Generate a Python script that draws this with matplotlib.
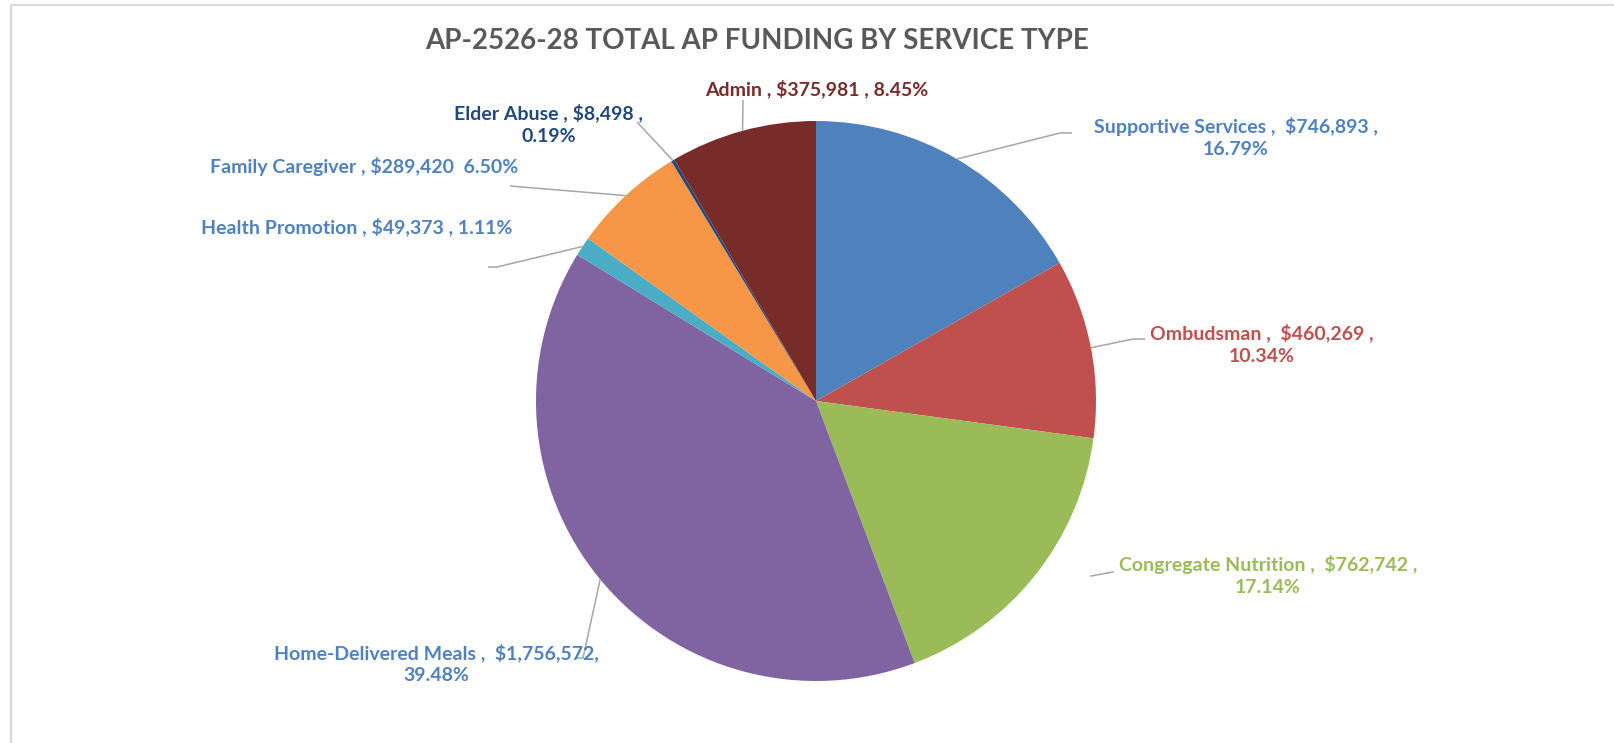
import numpy as np
import matplotlib
matplotlib.use("Agg")
import matplotlib.pyplot as plt

# data
names = ["Supportive Services", "Ombudsman", "Congregate Nutrition",
         "Home-Delivered Meals", "Health Promotion", "Family Caregiver",
         "Elder Abuse", "Admin"]
amounts = [746893, 460269, 762742, 1756572, 49373, 289420, 8498, 375981]
pcts = [16.79, 10.34, 17.14, 39.48, 1.11, 6.50, 0.19, 8.45]
templates = ["{n} ,  {a} ,\n{p}", "{n} ,  {a} ,\n{p}", "{n} ,  {a} ,\n{p}",
             "{n} ,  {a},\n{p}", "{n} , {a} , {p}", "{n} , {a}  {p}",
             "{n} , {a} ,\n{p}", "{n} , {a} , {p}"]
title = "AP-2526-28 TOTAL AP FUNDING BY SERVICE TYPE"

colors = ["#4F81BD", "#C0504D", "#9BBB59", "#8064A2",
          "#4BACC6", "#F79646", "#1F497D", "#772C2A"]
text_colors = ["#4F81BD", "#C0504D", "#9BBB59", "#4F81BD",
               "#4F81BD", "#4F81BD", "#1F497D", "#772C2A"]

W, H = 1614, 743
cx, cy, R = 816, 401, 280  # pixel coords, y downward

# label centre (x, y of first line) and leader-line elbow points, pixel coords
label_pos = [(1236, 128), (1262, 335), (1268, 566), (436, 654),
             (357, 229), (364, 168), (549, 115), (817, 91)]
leader_pts = [[(1060, 133), (1072, 133)],
              [(1133, 339), (1145, 339)],
              None,
              [(583, 658), (575, 658)],
              [(497, 267), (488, 267)],
              [(510, 186)],
              [(637, 122)],
              [(743, 100)]]

fig = plt.figure(figsize=(W / 100, H / 100), dpi=100)
ax = fig.add_axes([0, 0, 1, 1])

wedges, _ = ax.pie(amounts, colors=colors, startangle=90, counterclock=False,
                   radius=R, center=(cx, H - cy),
                   wedgeprops=dict(linewidth=0))
ax.set_xlim(0, W)
ax.set_ylim(0, H)
ax.set_aspect("equal")
ax.axis("off")

for i, w in enumerate(wedges):
    mid = np.deg2rad((w.theta1 + w.theta2) / 2)
    ex = cx + R * np.cos(mid)
    ey = cy - R * np.sin(mid)
    pts = leader_pts[i]
    if pts is not None:
        xs = [ex] + [p[0] for p in pts]
        ys = [H - ey] + [H - p[1] for p in pts]
        ax.plot(xs, ys, color="#A6A6A6", lw=1.1, solid_capstyle="butt")
    txt = templates[i].format(n=names[i], a=f"${amounts[i]:,}",
                              p=f"{pcts[i]:.2f}%")
    lx, ly = label_pos[i]
    ax.text(lx, H - ly + 11, txt, ha="center", va="top", ma="center",
            color=text_colors[i], fontsize=14, fontweight="bold",
            family=["Lato", "DejaVu Sans"], linespacing=1.35)

# congregate nutrition short leader (floating segment)
ax.plot([1091, 1113], [H - 576, H - 572], color="#A6A6A6", lw=1.1)

ax.text(757, H - 41, title, ha="center", va="center", color="#595959",
        fontsize=20, fontweight="bold", family=["Lato", "DejaVu Sans"])

# chart frame
ax.plot([10.5, W], [H - 5, H - 5], color="#D9D9D9", lw=1.6)
ax.plot([10.5, 10.5], [0, H - 5], color="#D9D9D9", lw=1.6)

fig.savefig("out.png", dpi=100, facecolor="white")
